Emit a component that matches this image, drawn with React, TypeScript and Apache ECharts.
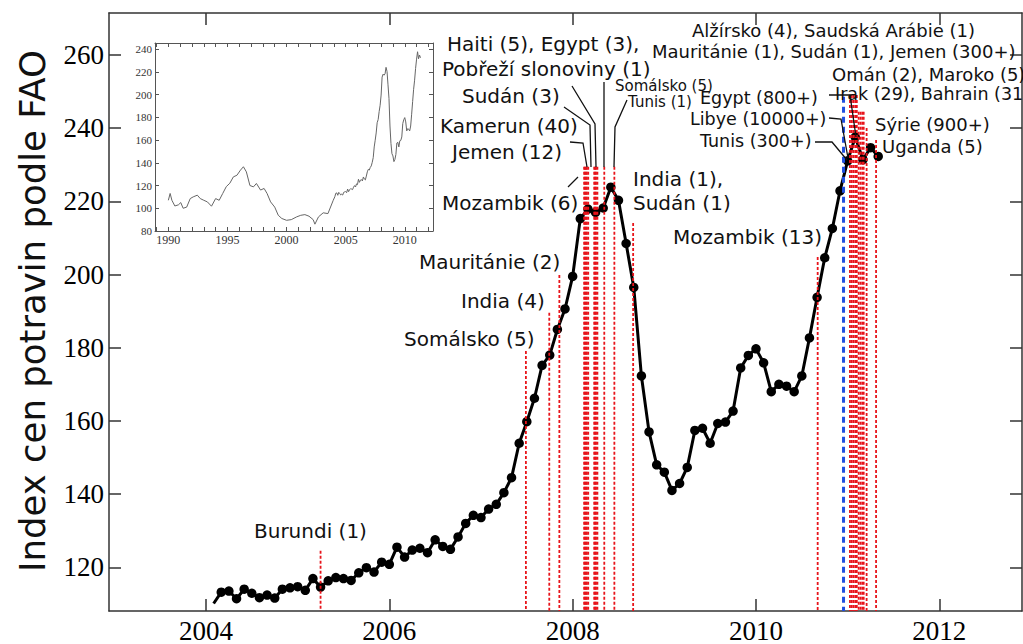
import React, { useEffect, useRef } from "react";
import * as echarts from "echarts";

// ---------- DATA ----------
// FAO food price index, monthly, starting February 2004
const startYear = 2004;
const startMonth = 2;
const foodIndex = [
  110.1, 113.2, 113.5, 111.4, 114.0, 112.9, 111.7, 112.4, 111.6, 114.0, 114.4, 114.7,
  113.7, 116.9, 114.6, 116.3, 117.2, 116.9, 116.4, 118.5, 119.9, 118.7, 121.4, 120.8,
  125.5, 122.8, 124.7, 125.2, 124.0, 127.5, 125.7, 124.9, 128.3, 132.0, 134.2, 133.6,
  135.9, 137.2, 140.4, 144.5, 153.9, 159.8, 166.2, 175.2, 178.0, 185.0, 190.6, 199.5,
  215.3, 217.9, 217.0, 218.2, 223.9, 220.3, 208.5, 196.5, 172.3, 157.0, 148.0, 146.0,
  141.0, 142.9, 147.3, 157.4, 158.0, 153.9, 159.3, 159.7, 162.7, 174.5, 177.9, 179.7,
  175.9, 168.0, 170.0, 169.5, 168.0, 172.3, 182.7, 193.8, 204.6, 212.6, 222.9, 231.1,
  237.6, 231.4, 234.7, 232.3,
];

const yearTicks = [2004, 2006, 2008, 2010, 2012];
const valueTicks = [120, 140, 160, 180, 200, 220, 240, 260];

// Unrest events (decimal year) and the top of their marker line (index value)
const eventDates = [
  2005.25, 2007.49, 2007.745, 2007.855,
  2008.125, 2008.135, 2008.145, 2008.155, 2008.17,
  2008.235, 2008.245, 2008.255, 2008.27,
  2008.345, 2008.455, 2008.66, 2010.673,
  2011.025, 2011.045, 2011.065, 2011.085, 2011.1,
  2011.12, 2011.14, 2011.16, 2011.175, 2011.207, 2011.31,
];
const eventTops = [
  124.5, 179.1, 189.6, 199.9,
  229.5, 229.5, 229.5, 229.5, 229.5,
  229.5, 229.5, 229.5, 229.5,
  229.5, 229.5, 214.1, 204.8,
  249.1, 249.1, 249.1, 249.1, 249.1,
  244.5, 244.5, 244.5, 244.5, 240.1, 236.8,
];
const tunisiaDate = [2010.955];
const tunisiaTop = [248.6];

// Inset: 1990-2004 readings (then the monthly data above)
const insetEarlyYears = [
  1990.0, 1990.15, 1990.3, 1990.55, 1990.85, 1991.05, 1991.25, 1991.55, 1991.85, 1992.1,
  1992.45, 1992.7, 1993.0, 1993.3, 1993.65, 1994.0, 1994.3, 1994.6, 1994.9, 1995.2,
  1995.5, 1995.8, 1996.1, 1996.35, 1996.6, 1996.9, 1997.2, 1997.45, 1997.8, 1998.1,
  1998.35, 1998.65, 1999.0, 1999.3, 1999.6, 2000.0, 2000.4, 2000.85, 2001.2, 2001.55,
  2001.9, 2002.25, 2002.4, 2002.7, 2003.1, 2003.5, 2003.95,
];
const insetEarlyValues = [
  107, 113, 107, 102, 103, 105, 100, 101, 108.5, 110,
  111.5, 108.5, 107, 105.6, 101.8, 108.5, 107, 113, 119, 122,
  127.6, 129, 133.5, 136.5, 132, 120, 118.8, 121.8, 116, 117.4,
  113, 105.6, 101, 93.8, 91, 89.4, 90, 92.4, 93.8, 94.4,
  93, 90, 86, 92.4, 96, 95.3, 107,
];
const insetYearLabels = [1990, 1995, 2000, 2005, 2010];
const insetYearTicks = [
  1989, 1990, 1991, 1992, 1993, 1994, 1995, 1996, 1997, 1998, 1999, 2000,
  2001, 2002, 2003, 2004, 2005, 2006, 2007, 2008, 2009, 2010, 2011, 2012,
];
const insetValueTicks = [80, 100, 120, 140, 160, 180, 200, 220, 240];

const labelTexts = [
  "Burundi (1)", "Somálsko (5)", "India (4)", "Mauritánie (2)", "Mozambik (6)",
  "Jemen (12)", "Kamerun (40)", "Sudán (3)", "Pobřeží slonoviny (1)", "Haiti (5), Egypt (3),",
  "India (1),", "Sudán (1)", "Mozambik (13)", "Somálsko (5)", "Tunis (1)",
  "Alžírsko (4), Saudská Arábie (1)", "Mauritánie (1), Sudán (1), Jemen (300+)",
  "Omán (2), Maroko (5)", "Irak (29), Bahrain (31)", "Egypt (800+)", "Libye (10000+)",
  "Tunis (300+)", "Sýrie (900+)", "Uganda (5)",
];
const yTitle = "Index cen potravin podle FAO";

// ---------- LAYOUT (pixels) ----------
const labelLayout = [
  [254, 531, 20], [404, 339, 20], [461, 301, 20], [419, 262, 20], [442, 203, 20],
  [452, 152, 20], [440, 126, 20], [462, 96, 20], [442, 69, 20], [447, 44, 20],
  [633, 179, 20], [633, 203, 20], [673, 237, 20], [615, 86, 15], [628, 102, 15],
  [692, 30, 18], [652, 51, 18],
  [832, 74, 18], [835, 94, 17.5], [700, 98, 17.5], [690, 119, 17.5],
  [700, 141, 17.5], [875, 124, 18], [882, 146, 18],
];
const leaderLines = [
  [[568, 187], [578, 177]],
  [[570, 142], [583, 143], [587, 167]],
  [[564, 107], [590, 125], [591, 167]],
  [[572, 86], [595, 124], [596, 167]],
  [[604, 82], [604, 167]],
  [[627, 100], [615, 127], [614, 167]],
  [[829, 95], [850, 95], [856, 137]],
  [[829, 118], [841, 119], [848, 158]],
  [[815, 142], [832, 142], [847, 160]],
];

const X_MIN = 2002.942;
const X_MAX = 2012.902;
const Y_MIN = 108.05;
const Y_MAX = 271.5;

const plain = (v: number) => String(Math.round(v));

export default function App() {
  const ref = useRef<HTMLDivElement>(null);

  useEffect(() => {
    document.body.style.margin = "0";
    if (!ref.current) return;
    const chart = echarts.init(ref.current, undefined, { renderer: "svg" });

    const mainData = foodIndex.map((v, i) => {
      const x = startYear + (startMonth - 1 + i) / 12;
      return i === 0 ? { value: [x, v], symbol: "none" } : { value: [x, v] };
    });
    const insetData = [
      ...insetEarlyYears.map((y, i) => [y, insetEarlyValues[i]]),
      ...foodIndex.map((v, i) => [startYear + (startMonth - 1 + i) / 12, v]),
    ];

    const axisColor = "#333";
    const mainX = (pos: string, show: boolean) => ({
      gridIndex: 0,
      type: "value",
      position: pos,
      min: X_MIN,
      max: X_MAX,
      axisLine: { show: true, onZero: false, lineStyle: { color: axisColor, width: 1.5 } },
      axisTick: { show: true, inside: true, length: 12, customValues: yearTicks, lineStyle: { color: axisColor, width: 1.5 } },
      axisLabel: {
        show,
        customValues: yearTicks,
        formatter: plain,
        fontFamily: "Liberation Serif",
        fontSize: 27,
        color: "#000",
        margin: 6,
      },
      splitLine: { show: false },
    });
    const mainY = (pos: string, show: boolean) => ({
      gridIndex: 0,
      type: "value",
      position: pos,
      min: Y_MIN,
      max: Y_MAX,
      axisLine: { show: true, onZero: false, lineStyle: { color: axisColor, width: 1.5 } },
      axisTick: { show: true, inside: true, length: 12, customValues: valueTicks, lineStyle: { color: axisColor, width: 1.5 } },
      axisLabel: {
        show,
        customValues: valueTicks,
        formatter: plain,
        fontFamily: "Liberation Serif",
        fontSize: 27,
        color: "#000",
        margin: 5,
      },
      splitLine: { show: false },
    });
    const insetX = (pos: string, show: boolean) => ({
      gridIndex: 1,
      type: "value",
      position: pos,
      min: 1988.87,
      max: 2012.39,
      axisLine: { show: true, onZero: false, lineStyle: { color: "#555", width: 1 } },
      axisTick: { show: true, inside: true, length: 4, customValues: insetYearTicks, lineStyle: { color: "#555", width: 1 } },
      axisLabel: {
        show,
        customValues: insetYearLabels,
        formatter: plain,
        fontFamily: "Liberation Serif",
        fontSize: 12,
        color: "#333",
        margin: 3,
      },
      splitLine: { show: false },
    });
    const insetY = (pos: string, show: boolean) => ({
      gridIndex: 1,
      type: "value",
      position: pos,
      min: 80,
      max: 245.3,
      axisLine: { show: true, onZero: false, lineStyle: { color: "#555", width: 1 } },
      axisTick: { show: true, inside: true, length: 4, customValues: insetValueTicks, lineStyle: { color: "#555", width: 1 } },
      axisLabel: {
        show,
        customValues: insetValueTicks,
        formatter: plain,
        fontFamily: "Liberation Serif",
        fontSize: 11,
        color: "#333",
        margin: 3,
      },
      splitLine: { show: false },
    });

    const eventRender = (color: string, width: number, dash: number[]) =>
      (params: any, api: any) => {
        const top = api.coord([api.value(0), api.value(1)]);
        const bottom = api.coord([api.value(0), Y_MIN]);
        return {
          type: "line",
          shape: { x1: top[0], y1: top[1], x2: bottom[0], y2: bottom[1] },
          style: { stroke: color, lineWidth: width, lineDash: dash },
        };
      };

    const graphics: any[] = [];
    labelTexts.forEach((t, i) => {
      const [x, y, s] = labelLayout[i];
      graphics.push({
        type: "text",
        x,
        y,
        z: 100,
        style: {
          text: t,
          font: `${s}px "DejaVu Sans"`,
          fill: "#111",
          align: "left",
          verticalAlign: "middle",
        },
      });
    });
    leaderLines.forEach((pts) => {
      graphics.push({
        type: "polyline",
        z: 100,
        shape: { points: pts },
        style: { stroke: "#111", lineWidth: 1.3, fill: null },
      });
    });
    graphics.push({
      type: "text",
      x: 32,
      y: 311,
      rotation: Math.PI / 2,
      style: {
        text: yTitle,
        font: '35.5px "DejaVu Sans"',
        fill: "#111",
        align: "center",
        verticalAlign: "middle",
      },
    });

    chart.setOption({
      animation: false,
      backgroundColor: "#fff",
      grid: [
        { left: 109, top: 13, width: 913, height: 599 },
        { left: 155, top: 43, width: 278, height: 188 },
      ],
      xAxis: [mainX("bottom", true), mainX("top", false), insetX("bottom", true), insetX("top", false)],
      yAxis: [mainY("left", true), mainY("right", false), insetY("left", true), insetY("right", false)],
      series: [
        {
          type: "line",
          xAxisIndex: 0,
          yAxisIndex: 0,
          data: mainData,
          symbol: "circle",
          symbolSize: 9.5,
          lineStyle: { color: "#000", width: 3 },
          itemStyle: { color: "#000" },
          z: 2,
        },
        {
          type: "custom",
          xAxisIndex: 0,
          yAxisIndex: 0,
          data: eventDates.map((d, i) => [d, eventTops[i]]),
          renderItem: eventRender("#e8141b", 1.8, [3, 2]),
          z: 3,
        },
        {
          type: "custom",
          xAxisIndex: 0,
          yAxisIndex: 0,
          data: tunisiaDate.map((d, i) => [d, tunisiaTop[i]]),
          renderItem: eventRender("#1f4fe0", 3, [6, 4]),
          z: 3,
        },
        {
          type: "line",
          xAxisIndex: 2,
          yAxisIndex: 2,
          data: insetData,
          showSymbol: false,
          symbol: "none",
          lineStyle: { color: "#666", width: 1 },
          z: 2,
        },
      ],
      graphic: graphics,
    });

    return () => chart.dispose();
  }, []);

  return <div ref={ref} style={{ width: 1023, height: 644 }} />;
}
